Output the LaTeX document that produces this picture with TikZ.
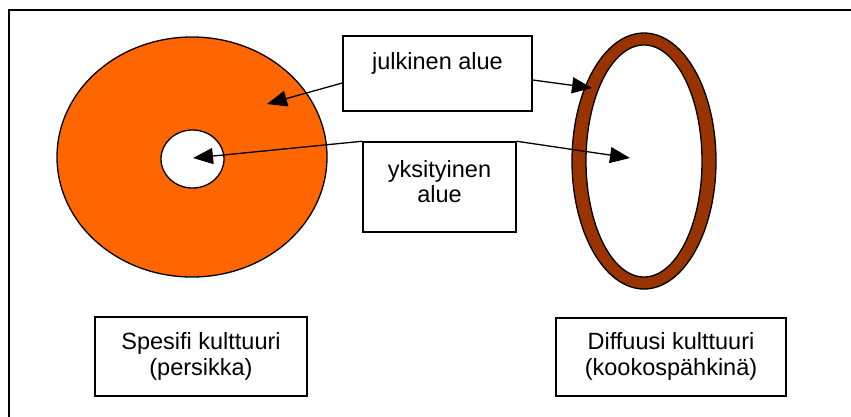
\documentclass[tikz,border=0pt]{standalone}
\usepackage{fontspec}
\setmainfont{Liberation Sans}
\usetikzlibrary{arrows.meta}
\definecolor{peach}{HTML}{FF6600}
\definecolor{shell}{HTML}{993300}
\begin{document}
\begin{tikzpicture}[x=1pt,y=-1pt,
  box/.style={draw=black,line width=1.5pt,fill=white,inner sep=0pt},
  txt/.style={font=\fontsize{23.5}{26}\selectfont,anchor=base,inner sep=0pt},
  arr/.style={line width=1.3pt,-{Triangle[length=20pt,width=16pt]}},
  outl/.style={draw=black,line width=1.3pt}]
\useasboundingbox (0,0) rectangle (851,416);
% frame (right and bottom edges fall outside the picture)
\draw[line width=2pt] (9,430) -- (9,10) -- (870,10);
% peach
\path[outl,fill=peach] (192,157) ellipse [x radius=135, y radius=120];
\path[outl,fill=white] (192.5,159) ellipse [x radius=31.5, y radius=29];
% coconut
\path[outl,fill=shell] (644,161) ellipse [x radius=72, y radius=128];
\path[outl,fill=white] (644,161) ellipse [x radius=58, y radius=116];
% boxes
\node[box,minimum width=189pt,minimum height=75pt] (pub) at (437.5,73.5) {};
\node[txt] (pubt) at (437.5,69) {julkinen alue};
\node[box,minimum width=153pt,minimum height=90pt] (priv) at (439.5,187) {};
\node[txt] (privt1) at (439.5,177) {yksityinen};
\node[txt] (privt2) at (439.5,202) {alue};
\node[box,minimum width=212pt,minimum height=79pt] (spec) at (201,356.5) {};
\node[txt] (spect1) at (201,349) {Spesifi kulttuuri};
\node[txt] (spect2) at (201,375) {(persikka)};
\node[box,minimum width=230pt,minimum height=78pt] (diff) at (671,357) {};
\node[txt] (difft1) at (671,349) {Diffuusi kulttuuri};
\node[txt] (difft2) at (671,375) {(kookospähkinä)};
% arrow targets
\coordinate (peachT) at (267,104);
\coordinate (shellT) at (592,88);
\coordinate (stoneT) at (193,158);
\coordinate (coreT) at (630,158);
% connectors
\draw[arr] ([yshift=-9.5pt]pub.west) -- (peachT);
\draw[arr] ([yshift=-6.5pt]pub.east) -- (shellT);
\draw[arr] (priv.north west) -- (stoneT);
\draw[arr] (priv.north east) -- (coreT);
\end{tikzpicture}
\end{document}
